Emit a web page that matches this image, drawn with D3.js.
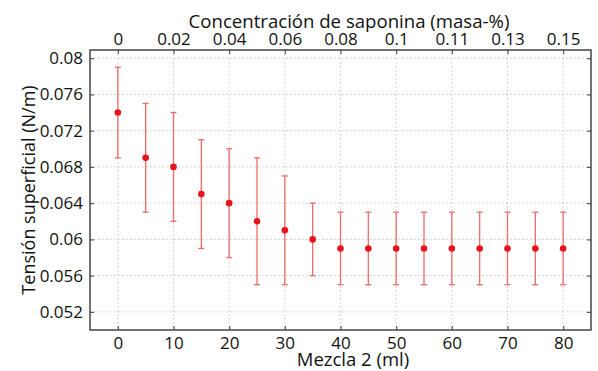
<!DOCTYPE html>
<html><head><meta charset="utf-8">
<script src="https://cdn.jsdelivr.net/npm/d3@7"></script>
<style>body{margin:0;background:#fff}svg{display:block}text{font-family:"Open Sans",sans-serif;fill:#111}</style>
</head><body><svg id="c" width="598" height="371"></svg>
<script>
const mezcla = [0,5,10,15,20,25,30,35,40,45,50,55,60,65,70,75,80];
const tension = [0.074,0.069,0.068,0.065,0.064,0.062,0.061,0.060,0.059,0.059,0.059,0.059,0.059,0.059,0.059,0.059,0.059];
const upper = [0.079,0.075,0.074,0.071,0.070,0.069,0.067,0.064,0.063,0.063,0.063,0.063,0.063,0.063,0.063,0.063,0.063];
const lower = [0.069,0.063,0.062,0.059,0.058,0.055,0.055,0.056,0.055,0.055,0.055,0.055,0.055,0.055,0.055,0.055,0.055];
const xTicks = [0,10,20,30,40,50,60,70,80];
const topTickLabels = ["0","0.02","0.04","0.06","0.08","0.1","0.11","0.13","0.15"];
const yTicks = [0.052,0.056,0.06,0.064,0.068,0.072,0.076,0.08];

const L=90,R=591,T=50,B=330;
const svg=d3.select("#c");
const x=d3.scaleLinear().domain([-5,85]).range([L,R]);
const y=d3.scaleLinear().domain([0.05,0.0809]).range([B,T]);

// grid
const g=svg.append("g");
g.selectAll(".gx").data(xTicks).join("line").attr("x1",d=>x(d)).attr("x2",d=>x(d)).attr("y1",T).attr("y2",B)
 .attr("stroke","#c8c8c8").attr("stroke-dasharray","1.5,2.5").attr("stroke-width",1);
g.selectAll(".gy").data(yTicks).join("line").attr("y1",d=>y(d)).attr("y2",d=>y(d)).attr("x1",L).attr("x2",R)
 .attr("stroke","#c8c8c8").attr("stroke-dasharray","1.5,2.5").attr("stroke-width",1);

// axes
const fmtY=d=>d3.format("")(+d.toFixed(3));
const axB=d3.axisBottom(x).tickValues(xTicks).tickSize(-4).tickPadding(7);
const axT=d3.axisTop(x).tickValues(xTicks).tickSize(-4).tickPadding(5).tickFormat((d,i)=>topTickLabels[i]);
const axL=d3.axisLeft(y).tickValues(yTicks).tickSize(-4).tickPadding(7).tickFormat(fmtY);
const axR=d3.axisRight(y).tickValues(yTicks).tickSize(-4).tickFormat("");
function style(sel){
  sel.select(".domain").remove();
  sel.selectAll(".tick line").attr("stroke","#555").attr("stroke-width",1.2);
  sel.selectAll("text").attr("font-size",17).attr("fill","#111").attr("font-family","'Open Sans',sans-serif");
}
svg.append("g").attr("transform",`translate(0,${B})`).call(axB).call(style);
svg.append("g").attr("transform",`translate(0,${T})`).call(axT).call(style);
svg.append("g").attr("transform",`translate(${L},0)`).call(axL).call(style);
svg.append("g").attr("transform",`translate(${R},0)`).call(axR).call(style);
svg.append("rect").attr("x",L).attr("y",T).attr("width",R-L).attr("height",B-T)
 .attr("fill","none").attr("stroke","#444").attr("stroke-width",1.5);

// error bars
const eb=svg.append("g").attr("stroke","#ef6a6a").attr("stroke-width",1.3);
mezcla.forEach((m,i)=>{
  eb.append("line").attr("x1",x(m)).attr("x2",x(m)).attr("y1",y(upper[i])).attr("y2",y(lower[i]));
  eb.append("line").attr("x1",x(m)-3).attr("x2",x(m)+3).attr("y1",y(upper[i])).attr("y2",y(upper[i]));
  eb.append("line").attr("x1",x(m)-3).attr("x2",x(m)+3).attr("y1",y(lower[i])).attr("y2",y(lower[i]));
});
svg.append("g").selectAll("circle").data(mezcla).join("circle")
 .attr("cx",d=>x(d)).attr("cy",(d,i)=>y(tension[i])).attr("r",3.3).attr("fill","#e8141c");

// titles
svg.append("text").attr("x",353).attr("y",366).attr("text-anchor","middle").attr("font-size",18.5).text("Mezcla 2 (ml)");
svg.append("text").attr("x",349).attr("y",28).attr("text-anchor","middle").attr("font-size",18.6).text("Concentración de saponina (masa-%)");
svg.append("text").attr("transform","translate(35,190) rotate(-90)").attr("text-anchor","middle").attr("font-size",18).text("Tensión superficial (N/m)");
</script></body></html>
